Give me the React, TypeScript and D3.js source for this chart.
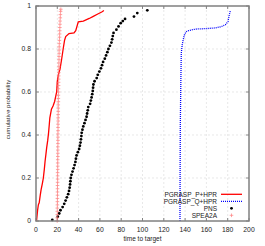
import React from "react";
import * as d3 from "d3";

// x: time to target, y: cumulative probability
const pPlusHpr: [number, number][] = [
  [0.5, 0.0], [1.5, 0.05], [2.2, 0.075], [3, 0.085], [4, 0.12], [4.8, 0.146], [6, 0.175],
  [6.9, 0.2], [7.8, 0.24], [8.5, 0.277], [9.3, 0.31], [10, 0.34], [11, 0.375], [11.8, 0.41],
  [12.5, 0.45], [13, 0.48], [14.5, 0.52], [16, 0.535], [17.5, 0.556], [18.5, 0.58],
  [19.4, 0.6], [20, 0.65], [21, 0.68], [22.5, 0.705], [24, 0.75], [25.5, 0.8], [26.8, 0.84],
  [27.9, 0.858], [31, 0.872], [35.7, 0.875], [37.3, 0.885], [39.7, 0.926], [44.4, 0.93],
  [50, 0.942], [53.8, 0.952], [58, 0.963], [61.7, 0.972], [63.8, 0.979],
];

const qPlusHpr: [number, number][] = [
  [135.2, 0.0], [135.3, 0.2], [135.5, 0.45], [136, 0.65], [136.4, 0.78], [137.3, 0.82],
  [138.3, 0.845], [139.5, 0.868], [141, 0.88], [143, 0.885], [147, 0.89], [151, 0.893],
  [160, 0.895], [168.4, 0.898], [174, 0.904], [177.8, 0.913], [180.3, 0.928],
  [181.5, 0.96], [182.5, 0.978],
];

const pns: [number, number][] = [
  [15.3, 0.005], [20.5, 0.02], [21.8, 0.035], [23, 0.05], [25, 0.065], [26.5, 0.08],
  [27.8, 0.095], [29, 0.11], [30.2, 0.125], [31, 0.14], [31.6, 0.155], [32, 0.17],
  [32.3, 0.185], [32.6, 0.2], [33.3, 0.215], [34.3, 0.23], [35.3, 0.245], [36.2, 0.26],
  [37, 0.275], [37.5, 0.29], [38.1, 0.305], [39.3, 0.32], [40.5, 0.335], [41.2, 0.35],
  [41.8, 0.365], [42.2, 0.38], [42.6, 0.395], [42.9, 0.41], [43.6, 0.425], [44.4, 0.44],
  [45.5, 0.455], [46.5, 0.47], [47.5, 0.485], [48, 0.5], [48.6, 0.515], [49.1, 0.53],
  [50.8, 0.545], [51.5, 0.56], [52.2, 0.575], [52.8, 0.59], [53.3, 0.605], [53.6, 0.62],
  [53.9, 0.635], [55, 0.65], [57, 0.665], [58, 0.68], [59.5, 0.695], [61, 0.71],
  [62, 0.725], [63, 0.74], [64.6, 0.755], [65.8, 0.77], [67, 0.785], [68, 0.8],
  [69.4, 0.815], [70.8, 0.83], [71.5, 0.845], [72.1, 0.86], [72.8, 0.875], [75.5, 0.89],
  [77.5, 0.905], [79.5, 0.92], [81.5, 0.93], [83.6, 0.94], [92, 0.951], [95.1, 0.967],
  [104.5, 0.98],
];

const spea2a: [number, number][] = [
  [19.9, 0.0], [19.9, 0.015], [20, 0.03], [20, 0.045], [20, 0.06], [20.1, 0.075],
  [20.1, 0.09], [20.1, 0.105], [20.2, 0.12], [20.2, 0.135], [20.2, 0.15], [20.2, 0.165],
  [20.3, 0.18], [20.3, 0.195], [20.3, 0.21], [20.3, 0.225], [20.4, 0.24], [20.4, 0.255],
  [20.4, 0.27], [20.4, 0.285], [20.5, 0.3], [20.5, 0.315], [20.5, 0.33], [20.5, 0.345],
  [20.6, 0.36], [20.6, 0.375], [20.6, 0.39], [20.6, 0.405], [20.7, 0.42], [20.7, 0.435],
  [20.7, 0.45], [20.8, 0.465], [20.8, 0.48], [20.8, 0.495], [20.9, 0.51], [20.9, 0.525],
  [20.9, 0.54], [21, 0.555], [21, 0.57], [21, 0.585], [21.1, 0.6], [21.1, 0.615],
  [21.2, 0.63], [21.2, 0.645], [21.3, 0.66], [21.3, 0.675], [21.4, 0.69], [21.4, 0.705],
  [21.5, 0.72], [21.5, 0.735], [21.6, 0.75], [21.6, 0.765], [21.7, 0.78], [21.7, 0.795],
  [21.8, 0.81], [21.9, 0.825], [22, 0.84], [22.1, 0.855], [22.2, 0.87], [22.3, 0.885],
  [22.4, 0.9], [22.5, 0.915], [22.6, 0.93], [22.8, 0.945], [22.9, 0.96], [23.1, 0.975],
  [23.3, 0.985],
];

const xTicks = [0, 20, 40, 60, 80, 100, 120, 140, 160, 180, 200];
const yTicks = [0, 0.2, 0.4, 0.6, 0.8, 1];
const legendLabels = ["PGRASP_P+HPR", "PGRASP_Q+HPR", "PNS", "SPEA2A"];

const W = 265;
const H = 246;
const left = 36;
const right = 249;
const top = 6;
const bottom = 221;
const font = "'Liberation Sans', Arial, sans-serif";
const crossColor = "#ff6f6f";

export default function App() {
  const x = d3.scaleLinear().domain([0, 200]).range([left, right]);
  const y = d3.scaleLinear().domain([0, 1]).range([bottom, top]);
  const line = d3
    .line<[number, number]>()
    .x((d) => x(d[0]))
    .y((d) => y(d[1]));

  return (
    <svg
      width={W}
      height={H}
      style={{ position: "absolute", left: 0, top: 0, background: "#fff" }}
      fontFamily={font}
      fontSize={6.5}
    >
      {/* grid */}
      <g stroke="#d8d8d8" strokeWidth={0.6} strokeDasharray="2,2">
        {xTicks.slice(1, -1).map((t) => (
          <line key={"gx" + t} x1={x(t)} x2={x(t)} y1={top} y2={bottom} />
        ))}
        {yTicks.slice(1, -1).map((t) => (
          <line key={"gy" + t} x1={left} x2={right} y1={y(t)} y2={y(t)} />
        ))}
      </g>

      {/* ticks on all sides */}
      <g stroke="#555" strokeWidth={0.7}>
        {xTicks.map((t) => (
          <g key={"tx" + t}>
            <line x1={x(t)} x2={x(t)} y1={bottom} y2={bottom - 3} />
            <line x1={x(t)} x2={x(t)} y1={top} y2={top + 3} />
          </g>
        ))}
        {yTicks.map((t) => (
          <g key={"ty" + t}>
            <line x1={left} x2={left + 3} y1={y(t)} y2={y(t)} />
            <line x1={right} x2={right - 3} y1={y(t)} y2={y(t)} />
          </g>
        ))}
      </g>

      {/* tick labels */}
      <g fill="#222">
        {xTicks.map((t) => (
          <text key={"lx" + t} x={x(t)} y={231.5} textAnchor="middle" fontSize={6.8}>
            {t}
          </text>
        ))}
        {yTicks.map((t) => (
          <text key={"ly" + t} x={31} y={y(t) + 2.3} textAnchor="end" fontSize={6.8}>
            {t}
          </text>
        ))}
        <text x={(left + right) / 2} y={241} textAnchor="middle">
          time to target
        </text>
        <text
          transform={`translate(9.5,${(top + bottom) / 2 - 4}) rotate(-90)`}
          textAnchor="middle"
          fontSize={6.2}
        >
          cumulative probability
        </text>
      </g>

      {/* series */}
      <path d={line(pPlusHpr) ?? ""} fill="none" stroke="#ff0000" strokeWidth={1.3} />
      <path
        d={line(qPlusHpr) ?? ""}
        fill="none"
        stroke="#0000ff"
        strokeWidth={1.3}
        strokeDasharray="1,1"
      />
      <g fill="#000">
        {pns.map((d, i) => (
          <circle key={"p" + i} cx={x(d[0])} cy={y(d[1])} r={1.4} />
        ))}
      </g>
      <g stroke={crossColor} strokeWidth={0.75} opacity={0.85}>
        {spea2a.map((d, i) => (
          <g key={"s" + i}>
            <line x1={x(d[0]) - 1.8} x2={x(d[0]) + 1.8} y1={y(d[1])} y2={y(d[1])} />
            <line x1={x(d[0])} x2={x(d[0])} y1={y(d[1]) - 1.8} y2={y(d[1]) + 1.8} />
          </g>
        ))}
      </g>

      {/* legend */}
      <g>
        {legendLabels.map((label, i) => {
          const cy = 194.3 + i * 7;
          return (
            <g key={label}>
              <text x={217} y={cy + 2.2} textAnchor="end" fill="#222">
                {label}
              </text>
              {i === 0 && (
                <line x1={221} x2={242} y1={cy} y2={cy} stroke="#ff0000" strokeWidth={1.3} />
              )}
              {i === 1 && (
                <line
                  x1={221}
                  x2={242}
                  y1={cy}
                  y2={cy}
                  stroke="#0000ff"
                  strokeWidth={1.3}
                  strokeDasharray="1,1"
                />
              )}
              {i === 2 && <circle cx={231.5} cy={cy} r={1.4} fill="#000" />}
              {i === 3 && (
                <g stroke={crossColor} strokeWidth={0.75} opacity={0.85}>
                  <line x1={229.7} x2={233.3} y1={cy} y2={cy} />
                  <line x1={231.5} x2={231.5} y1={cy - 1.8} y2={cy + 1.8} />
                </g>
              )}
            </g>
          );
        })}
      </g>

      {/* frame */}
      <rect
        x={left}
        y={top}
        width={right - left}
        height={bottom - top}
        fill="none"
        stroke="#808080"
        strokeWidth={1.5}
      />
    </svg>
  );
}
